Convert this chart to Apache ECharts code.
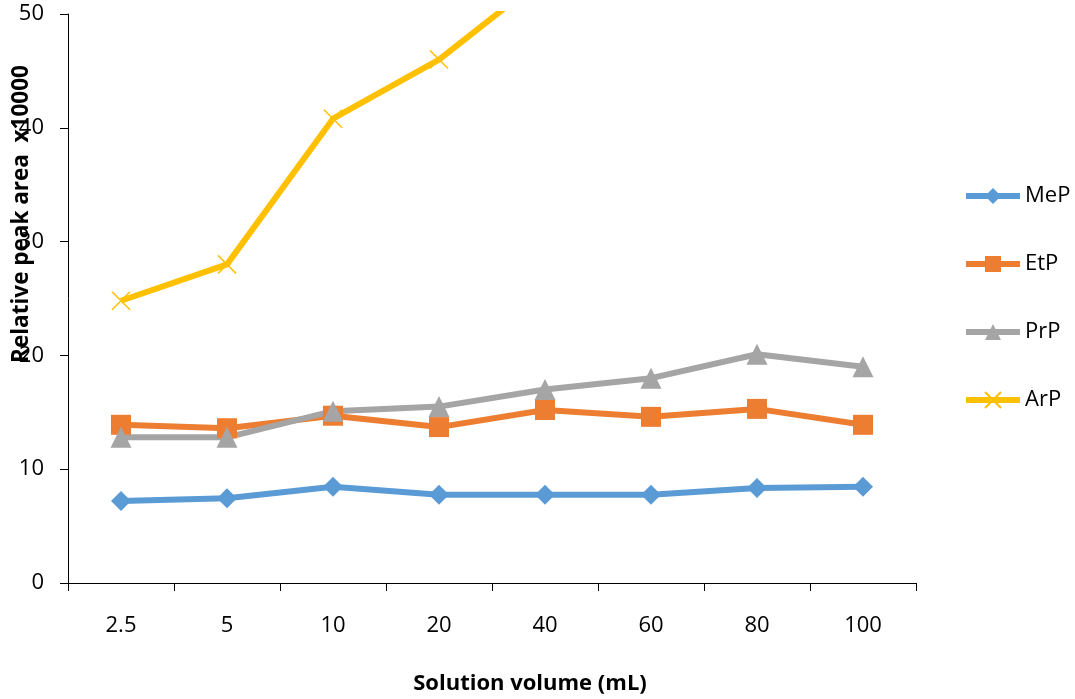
<!DOCTYPE html>
<html><head><meta charset="utf-8">
<script src="https://cdn.jsdelivr.net/npm/echarts@6/dist/echarts.min.js"></script>
<style>html,body{margin:0;padding:0;background:#fff}#c{width:1075px;height:699px}</style>
</head><body><div id="c"></div>
<script>
const categories = ['2.5','5','10','20','40','60','80','100'];
const MeP = [7.2, 7.45, 8.45, 7.75, 7.75, 7.75, 8.35, 8.45];
const EtP = [13.9, 13.6, 14.7, 13.7, 15.2, 14.6, 15.3, 13.9];
const PrP = [12.8, 12.8, 15.1, 15.5, 17.0, 18.0, 20.1, 19.0];
const ArP = [24.8, 28.0, 40.8, 46.0, 53.3, 58, 62, 66];
const yTicks = [0, 10, 20, 30, 40, 50];

const font = '"Open Sans", "Noto Sans", sans-serif';
const chart = echarts.init(document.getElementById('c'));
function ser(name, data, color, symbol, size, extra) {
  return Object.assign({
    name, type: 'line', data, symbol, symbolSize: size,
    lineStyle: { color, width: 6 },
    itemStyle: { color },
    clip: true, animation: false
  }, extra || {});
}
chart.setOption({
  animation: false,
  grid: { left: 68, right: 159, top: 14, bottom: 116 },
  xAxis: {
    type: 'category', data: categories, boundaryGap: true,
    axisLine: { lineStyle: { color: '#000', width: 1 } },
    axisTick: { show: true, length: 8, inside: false, lineStyle: { color: '#000' } },
    axisLabel: { color: '#000', fontSize: 22, fontFamily: font, margin: 32 }
  },
  yAxis: {
    type: 'value', min: yTicks[0], max: yTicks[yTicks.length - 1], interval: 10,
    splitLine: { show: false },
    axisLine: { show: true, lineStyle: { color: '#000', width: 1 } },
    axisTick: { show: true, length: 8, lineStyle: { color: '#000' } },
    axisLabel: { color: '#000', fontSize: 22, fontFamily: font, margin: 24 }
  },
  legend: {
    orient: 'vertical', left: 958, top: 180, itemWidth: 54, itemHeight: 20, itemGap: 46,
    textStyle: { color: '#000', fontSize: 22, fontFamily: font },
    lineStyle: { width: 6 },
    data: ['MeP', 'EtP', 'PrP', 'ArP']
  },
  graphic: [
    { type: 'text', x: 22, y: 214, rotation: Math.PI / 2, style: {
      text: 'Relative peak area  x10000', font: 'bold 22.5px ' + font, fill: '#000',
      align: 'center', verticalAlign: 'middle' } },
    { type: 'text', x: 530, y: 684, style: {
      text: 'Solution volume (mL)', font: 'bold 22px ' + font, fill: '#000',
      align: 'center', verticalAlign: 'middle' } }
  ],
  series: [
    ser('MeP', MeP, '#5B9BD5', 'diamond', 20),
    ser('EtP', EtP, '#ED7D31', 'rect', 20),
    ser('PrP', PrP, '#A5A5A5', 'triangle', 21),
    ser('ArP', ArP, '#FFC000', 'path://M0,0L10,10M10,0L0,10', 18, {
      itemStyle: { color: '#FFC000', borderColor: '#FFC000', borderWidth: 1.5 }
    })
  ]
});
</script></body></html>
